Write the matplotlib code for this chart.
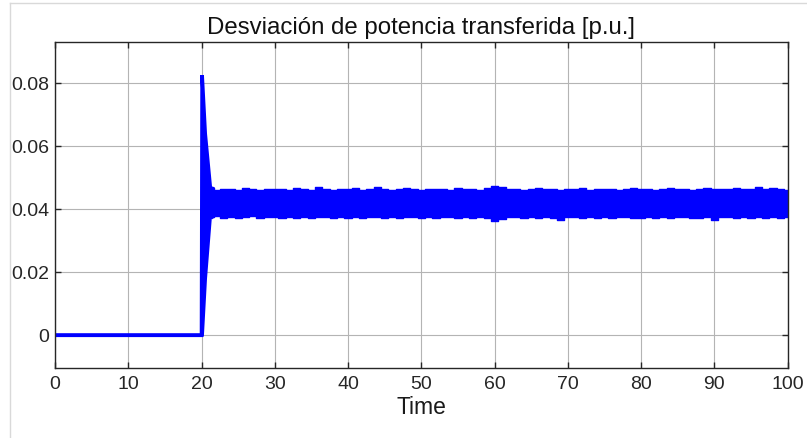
import matplotlib
matplotlib.use("Agg")
import matplotlib.pyplot as plt
import numpy as np
from matplotlib.lines import Line2D

# ---- data ----
# flat pre-disturbance segment and transient spike
t_transient = [0.0, 20.0, 20.08, 20.5, 21.2, 21.5]
upper_transient = [0.0, 0.0, 0.0826, 0.064, 0.0468, 0.0466]
lower_transient = [0.0, 0.0, 0.0, 0.018, 0.0385, 0.0376]

# steady-state oscillation envelope, sampled every time unit from 21.5
t_steady = [21.5] + list(range(22, 101))
upper_steady = [
    0.0466,
    0.0462, 0.0464, 0.0465, 0.0461, 0.0466, 0.0463, 0.0462, 0.0465,  # 22-29
    0.0463, 0.0464, 0.0462, 0.0466, 0.0463, 0.0461, 0.0470, 0.0464,  # 30-37
    0.0462, 0.0465, 0.0463, 0.0466, 0.0462, 0.0464, 0.0471, 0.0465,  # 38-45
    0.0462, 0.0464, 0.0466, 0.0463, 0.0462, 0.0465, 0.0463, 0.0464,  # 46-53
    0.0462, 0.0466, 0.0463, 0.0465, 0.0462, 0.0468, 0.0473, 0.0470,  # 54-61
    0.0463, 0.0465, 0.0462, 0.0464, 0.0466, 0.0463, 0.0464, 0.0462,  # 62-69
    0.0465, 0.0463, 0.0466, 0.0462, 0.0464, 0.0463, 0.0465, 0.0462,  # 70-77
    0.0464, 0.0466, 0.0463, 0.0465, 0.0462, 0.0464, 0.0466, 0.0463,  # 78-85
    0.0465, 0.0462, 0.0464, 0.0466, 0.0463, 0.0465, 0.0464, 0.0467,  # 86-93
    0.0465, 0.0463, 0.0472, 0.0464, 0.0466, 0.0463, 0.0462,          # 94-100
]
lower_steady = [
    0.0376,
    0.0377, 0.0373, 0.0376, 0.0372, 0.0375, 0.0377, 0.0373, 0.0376,  # 22-29
    0.0374, 0.0371, 0.0376, 0.0373, 0.0375, 0.0372, 0.0376, 0.0374,  # 30-37
    0.0371, 0.0375, 0.0373, 0.0376, 0.0372, 0.0374, 0.0376, 0.0373,  # 38-45
    0.0375, 0.0372, 0.0376, 0.0374, 0.0371, 0.0375, 0.0373, 0.0376,  # 46-53
    0.0374, 0.0372, 0.0376, 0.0373, 0.0375, 0.0372, 0.0363, 0.0370,  # 54-61
    0.0374, 0.0376, 0.0372, 0.0375, 0.0373, 0.0376, 0.0371, 0.0366,  # 62-69
    0.0374, 0.0376, 0.0372, 0.0375, 0.0373, 0.0376, 0.0372, 0.0374,  # 70-77
    0.0376, 0.0373, 0.0371, 0.0375, 0.0373, 0.0376, 0.0372, 0.0374,  # 78-85
    0.0376, 0.0373, 0.0371, 0.0375, 0.0366, 0.0374, 0.0376, 0.0372,  # 86-93
    0.0375, 0.0373, 0.0376, 0.0371, 0.0375, 0.0373, 0.0376,          # 94-100
]

x_ticks = [0, 10, 20, 30, 40, 50, 60, 70, 80, 90, 100]
y_ticks = [0, 0.02, 0.04, 0.06, 0.08]
y_tick_labels = ["0", "0.02", "0.04", "0.06", "0.08"]

title_text = "Desviación de potencia transferida [p.u.]"
x_label = "Time"

# ---- plot ----
plt.rcParams['font.family'] = ['Liberation Sans', 'DejaVu Sans']
fig = plt.figure(figsize=(8.07, 4.38), dpi=100)
ax = fig.add_axes([55 / 807, 1 - 368 / 438, (787.7 - 55) / 807, (368 - 42) / 438])

blue = "#0000ff"
ax.fill_between(t_transient, lower_transient, upper_transient, color=blue, lw=0)
ax.plot(t_transient, upper_transient, color=blue, lw=2.6, solid_joinstyle='miter')
ax.plot(t_transient, lower_transient, color=blue, lw=2.6)
ax.fill_between(t_steady, lower_steady, upper_steady, color=blue, lw=0, step='mid')
ax.plot(t_steady, upper_steady, color=blue, lw=1.0, drawstyle='steps-mid')
ax.plot(t_steady, lower_steady, color=blue, lw=1.0, drawstyle='steps-mid')

ax.set_xlim(0, 100)
ax.set_ylim(-0.0104, 0.0931)
ax.set_xticks(x_ticks)
ax.set_xticklabels([str(v) for v in x_ticks])
ax.set_yticks(y_ticks)
ax.set_yticklabels(y_tick_labels)

ax.grid(True, color="#b4b4b4", linewidth=0.8)
ax.set_axisbelow(True)
for s in ax.spines.values():
    s.set_color("#262626")
    s.set_linewidth(1.0)
ax.tick_params(direction='in', top=True, right=True, length=4, width=1.0,
               colors="#262626", labelsize=14, labelcolor="#262626")
ax.tick_params(axis='x', pad=6)
ax.tick_params(axis='y', pad=4)

ax.set_title(title_text, fontsize=17.3, color="#111111", pad=6)
ax.set_xlabel(x_label, fontsize=16.5, color="#1a1a1a", labelpad=2)

# light frame visible at the top-left of the screenshot
fig.add_artist(Line2D([9.5 / 807, 9.5 / 807], [0, 1 - 3 / 438], color="#d9d9d9", lw=1.0,
                      transform=fig.transFigure))
fig.add_artist(Line2D([9.5 / 807, 1], [1 - 3 / 438, 1 - 3 / 438], color="#d9d9d9", lw=1.0,
                      transform=fig.transFigure))

fig.savefig("out.png", dpi=100, facecolor="white")
